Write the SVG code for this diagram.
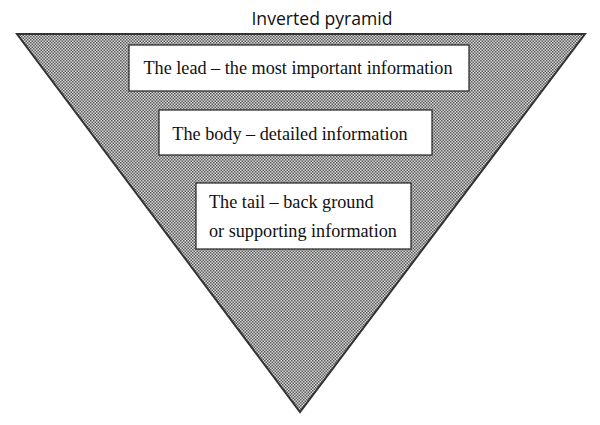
<svg xmlns="http://www.w3.org/2000/svg" width="600" height="425" viewBox="0 0 600 425">
<style>
.box{fill:#fff;stroke:#222;stroke-width:1.2}
.t{font-family:"Liberation Serif","Times New Roman",serif;font-size:18.2px;fill:#111}
.title{font-family:"Open Sans","Liberation Sans",sans-serif;font-size:17.6px;fill:#111}
</style>
<defs>
<pattern id="chk" width="3" height="3" patternUnits="userSpaceOnUse">
<rect width="3" height="3" fill="#d8d8d8"/>
<rect x="0" y="0" width="1.5" height="1.5" fill="#5a5a5a"/>
<rect x="1.5" y="1.5" width="1.5" height="1.5" fill="#5a5a5a"/>
</pattern>
</defs>
<rect width="600" height="425" fill="#fff"/>
<text class="title" x="322" y="25" text-anchor="middle">Inverted pyramid</text>
<g id="pyramid">
<polygon points="17,34 585,34 300,412" fill="url(#chk)" stroke="#333" stroke-width="2" stroke-linejoin="miter"/>
</g>
<g id="lead">
<rect class="box" x="129" y="45" width="340" height="46"/>
<text class="t" x="298" y="74" text-anchor="middle">The lead – the most important information</text>
</g>
<g id="body">
<rect class="box" x="159" y="110" width="273" height="45"/>
<text class="t" x="290" y="140" text-anchor="middle">The body – detailed information</text>
</g>
<g id="tail">
<rect class="box" x="196" y="183" width="215" height="66"/>
<text class="t" x="209" y="208">The tail – back ground</text>
<text class="t" x="209" y="237">or supporting information</text>
</g>
</svg>
